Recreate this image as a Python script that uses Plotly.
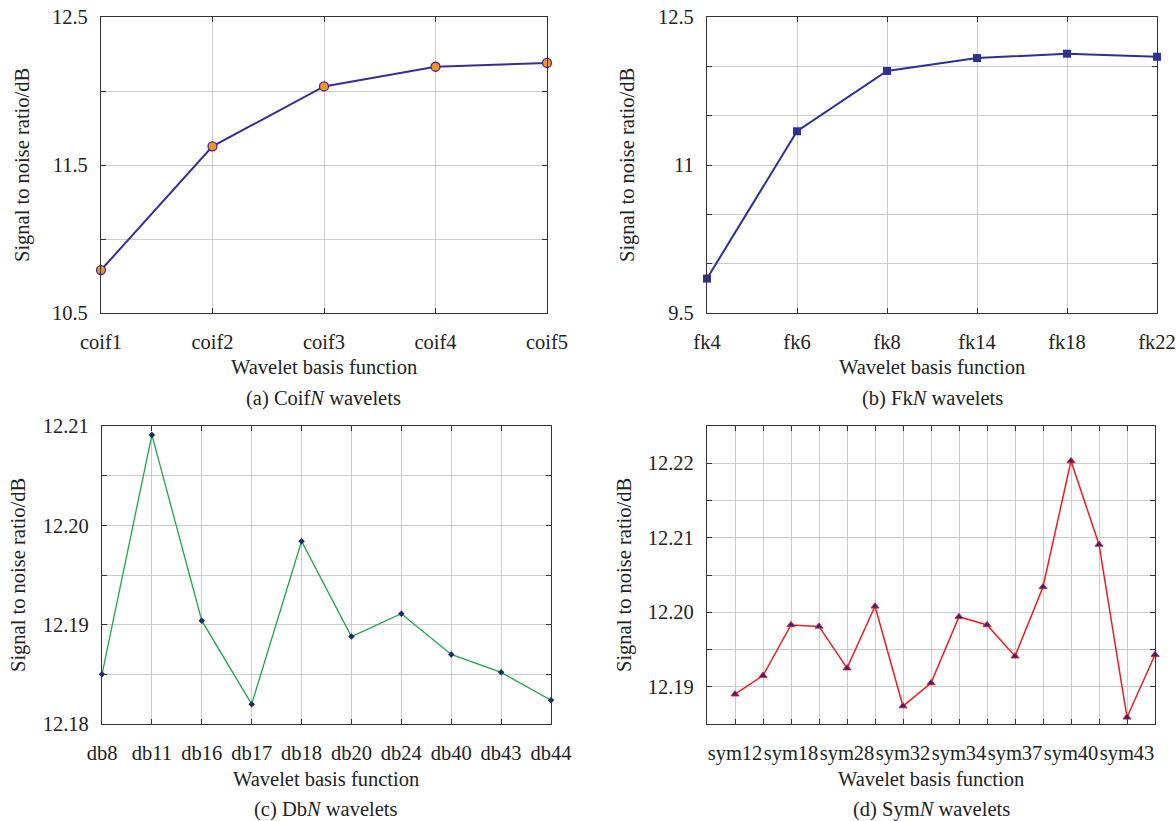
import plotly.graph_objects as go

# ---------------- data ----------------
coif_names = ["coif1", "coif2", "coif3", "coif4", "coif5"]
coif_snr = [10.79, 11.626, 12.031, 12.164, 12.19]

fk_names = ["fk4", "fk6", "fk8", "fk14", "fk18", "fk22"]
fk_snr = [9.849, 11.342, 11.953, 12.084, 12.128, 12.097]

db_names = ["db8", "db11", "db16", "db17", "db18", "db20", "db24", "db40", "db43", "db44"]
db_snr = [12.1850, 12.2091, 12.1904, 12.1820, 12.1984, 12.1888, 12.1911, 12.1870, 12.1852, 12.1824]

sym_labels = ["sym12", "sym18", "sym28", "sym32", "sym34", "sym37", "sym40", "sym43"]
sym_snr = [12.1890, 12.1915, 12.1983, 12.1981, 12.1925, 12.2008, 12.1874, 12.1905,
           12.1994, 12.1983, 12.1941, 12.2034, 12.2203, 12.2091, 12.1859, 12.1943]

y_a_ticks = [10.5, 11.0, 11.5, 12.0, 12.5]
y_a_text = ["10.5", "", "11.5", "", "12.5"]
y_b_ticks = [9.5, 10.0, 10.5, 11.0, 11.5, 12.0, 12.5]
y_b_text = ["9.5", "", "", "11", "", "", "12.5"]
y_c_ticks = [12.18, 12.185, 12.19, 12.195, 12.20, 12.205, 12.21]
y_c_text = ["12.18", "", "12.19", "", "12.20", "", "12.21"]
y_d_ticks = [12.185, 12.19, 12.195, 12.20, 12.205, 12.21, 12.215, 12.22, 12.225]
y_d_text = ["", "12.19", "", "12.20", "", "12.21", "", "12.22", ""]

# ---------------- layout helpers ----------------
W, H = 1176, 821
FONT = "Times New Roman, Liberation Serif, serif"
TXT = "#222222"
FS = 20.5


def px_x(v):
    return v / W


def px_y(v):
    return 1 - v / H


axis_common = dict(
    showline=True, linecolor="#333333", linewidth=1.2, mirror="allticks",
    ticks="inside", ticklen=5, tickwidth=1, tickcolor="#333333",
    showgrid=True, gridcolor="#cccccc", gridwidth=1, zeroline=False,
    automargin=False, tickangle=0,
    tickfont=dict(family=FONT, size=FS, color=TXT),
)

fig = go.Figure()

# (a)
fig.add_trace(go.Scatter(
    x=list(range(len(coif_names))), y=coif_snr, mode="lines+markers",
    line=dict(color="#3d2b96", width=2),
    marker=dict(symbol="circle", size=9, color="#f7941d", line=dict(color="#3d2b96", width=1.3)),
    xaxis="x", yaxis="y", showlegend=False, cliponaxis=False))
# (b)
fig.add_trace(go.Scatter(
    x=list(range(len(fk_names))), y=fk_snr, mode="lines+markers",
    line=dict(color="#2e3192", width=2),
    marker=dict(symbol="square", size=8, color="#2e3192"),
    xaxis="x2", yaxis="y2", showlegend=False, cliponaxis=False))
# (c)
fig.add_trace(go.Scatter(
    x=list(range(len(db_names))), y=db_snr, mode="lines+markers",
    line=dict(color="#22a34c", width=1.3),
    marker=dict(symbol="diamond", size=5, color="#1b2a6b"),
    xaxis="x3", yaxis="y3", showlegend=False, cliponaxis=False))
# (d)
fig.add_trace(go.Scatter(
    x=list(range(1, len(sym_snr) + 1)), y=sym_snr, mode="lines+markers",
    line=dict(color="#ed1c24", width=1.5),
    marker=dict(symbol="triangle-up", size=7, color="#1b2a8b", line=dict(color="#ed1c24", width=1)),
    xaxis="x4", yaxis="y4", showlegend=False, cliponaxis=False))

sym_tickvals = list(range(1, len(sym_snr) + 1))
sym_ticktext = []
for i in range(len(sym_snr)):
    sym_ticktext.append(sym_labels[i // 2] if i % 2 == 0 else "")

ya = (px_y(313), px_y(17))
yc = (px_y(724), px_y(426))

fig.update_layout(
    width=W, height=H, margin=dict(l=0, r=0, t=0, b=0, autoexpand=False),
    paper_bgcolor="white", plot_bgcolor="white",
    font=dict(family=FONT, size=FS, color=TXT),
    xaxis=dict(axis_common, domain=[px_x(101), px_x(547)], range=[0, 4],
               tickvals=list(range(len(coif_names))), ticktext=coif_names,
               ticklabelstandoff=10, anchor="y"),
    yaxis=dict(axis_common, domain=list(ya), range=[10.5, 12.5],
               tickvals=y_a_ticks, ticktext=y_a_text, ticklabelstandoff=8, anchor="x"),
    xaxis2=dict(axis_common, domain=[px_x(707), px_x(1157)], range=[0, 5],
                tickvals=list(range(len(fk_names))), ticktext=fk_names,
                ticklabelstandoff=10, anchor="y2"),
    yaxis2=dict(axis_common, domain=list(ya), range=[9.5, 12.5],
                tickvals=y_b_ticks, ticktext=y_b_text, ticklabelstandoff=8, anchor="x2"),
    xaxis3=dict(axis_common, domain=[px_x(102), px_x(551)], range=[0, 9],
                tickvals=list(range(len(db_names))), ticktext=db_names,
                ticklabelstandoff=10, anchor="y3"),
    yaxis3=dict(axis_common, domain=list(yc), range=[12.18, 12.21],
                tickvals=y_c_ticks, ticktext=y_c_text, ticklabelstandoff=8, anchor="x3"),
    xaxis4=dict(axis_common, domain=[px_x(707), px_x(1155)], range=[0, 16],
                tickvals=sym_tickvals, ticktext=sym_ticktext,
                ticklabelstandoff=10, anchor="y4"),
    yaxis4=dict(axis_common, domain=list(yc), range=[12.185, 12.225],
                tickvals=y_d_ticks, ticktext=y_d_text, ticklabelstandoff=8, anchor="x4"),
)

annos = []
panels = [
    (324, 367, 398, 22, 165, "(a) Coif<i>N</i> wavelets"),
    (932, 367, 398, 627, 165, "(b) Fk<i>N</i> wavelets"),
    (326, 779, 809, 18, 575, "(c) Db<i>N</i> wavelets"),
    (931, 779, 809, 624, 575, "(d) Sym<i>N</i> wavelets"),
]
for cx, ty, cy, yx, yy, cap in panels:
    annos.append(dict(x=px_x(cx), y=px_y(ty), xref="paper", yref="paper",
                      text="Wavelet basis function", showarrow=False,
                      xanchor="center", yanchor="middle",
                      font=dict(family=FONT, size=FS, color=TXT)))
    annos.append(dict(x=px_x(cx), y=px_y(cy), xref="paper", yref="paper",
                      text=cap, showarrow=False, xanchor="center", yanchor="middle",
                      font=dict(family=FONT, size=FS, color=TXT)))
    annos.append(dict(x=px_x(yx), y=px_y(yy), xref="paper", yref="paper",
                      text="Signal to noise ratio/dB", showarrow=False, textangle=-90,
                      xanchor="center", yanchor="middle",
                      font=dict(family=FONT, size=FS, color=TXT)))
fig.update_layout(annotations=annos)

fig.write_html(
    "out.html",
    config={"displayModeBar": False},
    post_script="document.body.style.margin='0';document.body.style.padding='0';",
)
